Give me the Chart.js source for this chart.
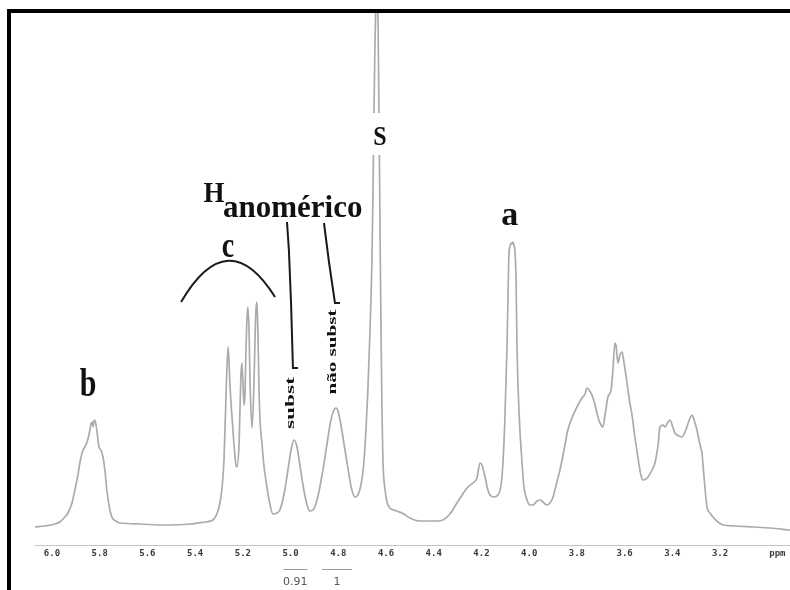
<!DOCTYPE html>
<html>
<head>
<meta charset="utf-8">
<script src="https://cdn.jsdelivr.net/npm/chart.js@4.4.1/dist/chart.umd.min.js"></script>
<style>
  body { margin: 0; background: #fff; }
  #wrap { position: relative; width: 790px; height: 590px; overflow: hidden; }
  #frame { position: absolute; left: 7px; top: 9px; right: -10px; bottom: -10px;
           border-left: 4px solid #000; border-top: 4px solid #000; pointer-events: none; }
</style>
</head>
<body>
<div id="wrap">
  <canvas id="nmr" width="790" height="590"></canvas>
  <div id="frame"></div>
</div>
<script>
// chemical shift (ppm), left to right
const ppm = [
  6.071, 6.029, 5.987, 5.967, 5.946, 5.933, 5.916, 5.904, 5.891, 5.883,
  5.870, 5.862, 5.853, 5.845, 5.841, 5.837, 5.832, 5.828, 5.824, 5.820,
  5.816, 5.812, 5.803, 5.795, 5.786, 5.778, 5.770, 5.761, 5.749, 5.732,
  5.715, 5.631, 5.535, 5.422, 5.359, 5.325, 5.309, 5.296, 5.288, 5.279,
  5.275, 5.271, 5.267, 5.262, 5.258, 5.254, 5.246, 5.237, 5.229, 5.225,
  5.216, 5.212, 5.208, 5.204, 5.200, 5.195, 5.191, 5.187, 5.183, 5.179,
  5.174, 5.170, 5.162, 5.154, 5.149, 5.145, 5.141, 5.137, 5.133, 5.128,
  5.120, 5.112, 5.099, 5.086, 5.074, 5.057, 5.045, 5.028, 5.011, 4.998,
  4.986, 4.973, 4.961, 4.948, 4.931, 4.919, 4.906, 4.889, 4.868, 4.848,
  4.831, 4.818, 4.810, 4.801, 4.789, 4.772, 4.755, 4.743, 4.730, 4.718,
  4.705, 4.692, 4.684, 4.676, 4.667, 4.659, 4.655, 4.651, 4.646, 4.642,
  4.638, 4.634, 4.630, 4.625, 4.621, 4.617, 4.613, 4.604, 4.596, 4.584,
  4.554, 4.525, 4.500, 4.458, 4.386, 4.361, 4.332, 4.303, 4.278, 4.257,
  4.236, 4.219, 4.206, 4.198, 4.185, 4.173, 4.164, 4.148, 4.131, 4.118,
  4.110, 4.102, 4.093, 4.089, 4.085, 4.081, 4.076, 4.072, 4.068, 4.064,
  4.060, 4.055, 4.051, 4.043, 4.030, 4.022, 4.009, 3.997, 3.984, 3.967,
  3.955, 3.942, 3.926, 3.913, 3.900, 3.884, 3.871, 3.858, 3.850, 3.838,
  3.821, 3.800, 3.779, 3.766, 3.758, 3.749, 3.737, 3.724, 3.712, 3.699,
  3.691, 3.682, 3.670, 3.657, 3.649, 3.641, 3.636, 3.628, 3.620, 3.611,
  3.603, 3.590, 3.578, 3.569, 3.557, 3.544, 3.532, 3.523, 3.511, 3.502,
  3.485, 3.473, 3.460, 3.452, 3.439, 3.431, 3.418, 3.410, 3.397, 3.389,
  3.372, 3.360, 3.347, 3.339, 3.326, 3.318, 3.309, 3.297, 3.284, 3.276,
  3.268, 3.255, 3.242, 3.230, 3.209, 3.188, 3.138, 3.062, 2.991, 2.907
];
// signal intensity (arbitrary units) at each shift
const intensity = [
  0, 1, 3, 5, 10, 14, 24, 37, 52, 64,
  77, 80, 85, 92, 97, 103, 105, 100, 106, 107,
  103, 97, 80, 77, 70, 57, 37, 22, 10, 6,
  4, 3, 2, 3, 5, 7, 13, 24, 37, 67,
  97, 127, 157, 180, 167, 142, 112, 82, 62, 60,
  82, 117, 152, 164, 147, 122, 132, 177, 207, 220,
  197, 147, 99, 137, 187, 217, 225, 197, 147, 107,
  84, 62, 40, 22, 13, 14, 17, 32, 57, 77,
  87, 80, 62, 42, 22, 16, 17, 27, 52, 82,
  107, 117, 119, 116, 102, 77, 52, 37, 30, 32,
  42, 67, 97, 137, 197, 267, 327, 407, 487, 527,
  547, 517, 427, 297, 197, 117, 67, 37, 25, 19,
  16, 13, 9, 6, 6, 7, 13, 24, 33, 40,
  44, 49, 64, 62, 50, 37, 32, 30, 32, 42,
  64, 107, 180, 227, 272, 280, 284, 283, 285, 282,
  277, 247, 180, 117, 64, 40, 27, 22, 22, 26,
  27, 25, 22, 24, 30, 45, 57, 72, 82, 97,
  109, 120, 129, 133, 139, 137, 132, 122, 110, 102,
  100, 112, 130, 137, 157, 184, 181, 164, 172, 175,
  165, 144, 124, 112, 90, 69, 52, 47, 48, 50,
  57, 64, 82, 100, 102, 100, 105, 107, 99, 94,
  91, 90, 95, 100, 109, 112, 107, 97, 82, 74,
  52, 20, 14, 10, 5, 2, 1, 0, -1, -3
];

const tickValues = [6.0, 5.8, 5.6, 5.4, 5.2, 5.0, 4.8, 4.6, 4.4, 4.2, 4.0, 3.8, 3.6, 3.4, 3.2, 2.96];
const tickLabels = ['6.0', '5.8', '5.6', '5.4', '5.2', '5.0', '4.8', '4.6', '4.4', '4.2', '4.0', '3.8', '3.6', '3.4', '3.2', 'ppm'];

// integration under the anomeric signals
const integralLabels = ['0.91', '1'];
const integralFrom = [5.03, 4.868];
const integralTo = [4.93, 4.743];

const serif = '"Liberation Serif", "DejaVu Serif", serif';

function drawText(ctx, text, x, y, size, sy, align) {
  ctx.save();
  ctx.translate(x, y);
  ctx.scale(1, sy);
  ctx.font = 'bold ' + size + 'px ' + serif;
  ctx.textAlign = align || 'center';
  ctx.textBaseline = 'alphabetic';
  ctx.fillText(text, 0, 0);
  ctx.restore();
}

function drawVertical(ctx, text, x, y, size, len) {
  ctx.save();
  ctx.translate(x, y);
  ctx.rotate(-Math.PI / 2);
  ctx.font = 'bold ' + size + 'px ' + serif;
  const w = ctx.measureText(text).width;
  ctx.scale(len / w, 1);
  ctx.textAlign = 'center';
  ctx.textBaseline = 'middle';
  ctx.fillText(text, 0, 0);
  ctx.restore();
}

const labelsPlugin = {
  id: 'nmrLabels',
  afterDatasetsDraw(chart) {
    const ctx = chart.ctx;
    const xs = chart.scales.x, ys = chart.scales.y;
    const px = v => xs.getPixelForValue(v);
    const py = v => ys.getPixelForValue(v);
    ctx.save();
    ctx.fillStyle = '#111';
    ctx.strokeStyle = '#1a1a1a';

    drawText(ctx, 'b', px(5.849), py(131), 30, 1.3);
    drawText(ctx, 'c', px(5.262), py(270), 28, 1.25);
    drawText(ctx, 'a', px(4.081), py(302), 34, 1.0);

    // gap in the solvent line behind "S"
    ctx.fillStyle = '#fff';
    ctx.fillRect(px(4.634) - 8, py(414), 16, 42);
    ctx.fillStyle = '#111';
    drawText(ctx, 'S', px(4.626), py(382), 24, 1.1);

    drawText(ctx, 'H', px(5.321), py(325), 27, 1.1);
    drawText(ctx, 'anomérico', px(5.283), py(310), 31, 1.0, 'left');

    // bracket over the c multiplets
    ctx.lineWidth = 2;
    ctx.beginPath();
    ctx.moveTo(px(5.459), py(225));
    ctx.quadraticCurveTo(px(5.262), py(305), px(5.065), py(230));
    ctx.stroke();

    // pointer lines
    ctx.lineWidth = 2;
    ctx.beginPath();
    ctx.moveTo(px(5.015), py(305));
    ctx.lineTo(px(5.007), py(277));
    ctx.lineTo(px(4.998), py(224));
    ctx.lineTo(px(4.990), py(159));
    ctx.lineTo(px(4.969), py(159));
    ctx.moveTo(px(4.860), py(304));
    ctx.lineTo(px(4.839), py(265));
    ctx.lineTo(px(4.814), py(224));
    ctx.lineTo(px(4.793), py(224));
    ctx.stroke();

    drawVertical(ctx, 'subst', px(4.998), py(124), 12, 52);
    drawVertical(ctx, 'não subst', px(4.822), py(175), 12, 85);

    // integrals under the axis
    ctx.strokeStyle = '#9a9a9a';
    ctx.fillStyle = '#555';
    ctx.lineWidth = 1;
    ctx.font = '11px "DejaVu Sans", sans-serif';
    ctx.textAlign = 'center';
    ctx.textBaseline = 'middle';
    integralLabels.forEach((t, i) => {
      const a = px(integralFrom[i]), b = px(integralTo[i]);
      ctx.beginPath();
      ctx.moveTo(a, py(-42) + 0.5);
      ctx.lineTo(b, py(-42) + 0.5);
      ctx.stroke();
      ctx.fillText(t, (a + b) / 2, py(-55));
    });
    ctx.restore();
  }
};

new Chart(document.getElementById('nmr'), {
  type: 'line',
  data: {
    datasets: [{
      data: ppm.map((p, i) => ({ x: p, y: intensity[i] })),
      borderColor: '#ababab',
      borderWidth: 1.7,
      pointRadius: 0,
      fill: false,
      cubicInterpolationMode: 'monotone'
    }]
  },
  options: {
    responsive: false,
    animation: false,
    layout: { padding: { top: 13, left: 35, right: 0, bottom: 0 } },
    plugins: { legend: { display: false }, tooltip: { enabled: false } },
    scales: {
      x: {
        type: 'linear',
        reverse: true,
        min: 2.907,
        max: 6.071,
        afterBuildTicks: s => { s.ticks = tickValues.map(v => ({ value: v })); },
        afterFit: s => { s.height = 45; },
        grid: { display: false, drawTicks: false },
        border: { display: true, color: '#c4c4c4', dash: [2, 2], width: 1 },
        ticks: {
          autoSkip: false,
          maxRotation: 0,
          padding: 3,
          color: '#3a3a3a',
          font: { family: '"DejaVu Sans Mono", monospace', size: 9, weight: 'bold' },
          callback: v => tickLabels[tickValues.indexOf(v)]
        }
      },
      y: { display: false, min: -18, max: 514 }
    }
  },
  plugins: [labelsPlugin]
});
</script>
</body>
</html>
